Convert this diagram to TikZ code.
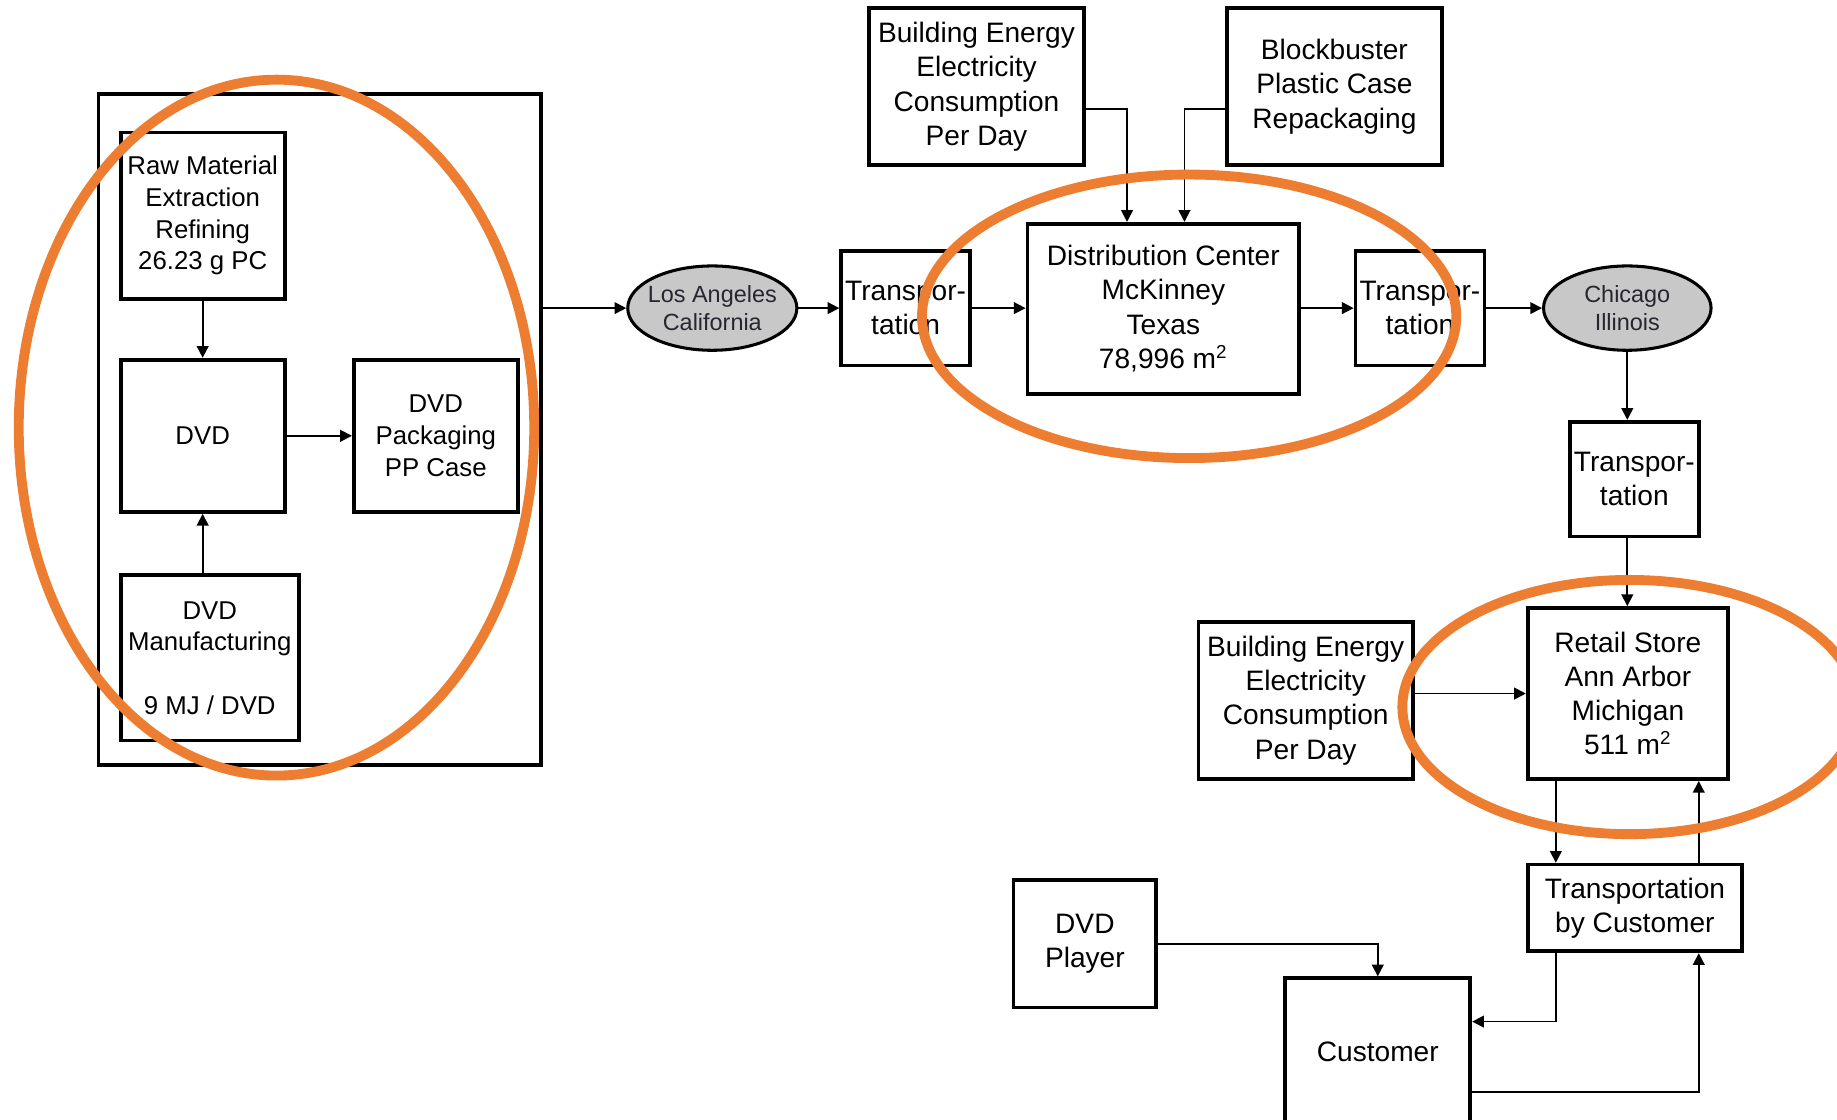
\documentclass[tikz,border=0pt]{standalone}
\usepackage{fontspec}
\setmainfont{Liberation Sans}
\usetikzlibrary{arrows.meta,shapes.geometric}
\definecolor{ringc}{HTML}{ED7D31}
\definecolor{ellfill}{HTML}{C8C8C8}
\definecolor{elltext}{HTML}{262630}
\begin{document}
\begin{tikzpicture}[x=0.5pt,y=-0.5pt,
  box/.style={draw,line width=1.6pt,inner sep=0pt,align=center,font=\fontsize{12}{14.6}\selectfont},
  sbox/.style={box,font=\fontsize{11}{13.5}\selectfont},
  city/.style={ellipse,draw,line width=1.3pt,fill=ellfill,inner xsep=-2pt,inner ysep=0pt,align=center,text=elltext,font=\fontsize{10}{12}\selectfont},
  arr/.style={line width=0.75pt,-{Triangle[length=5pt,width=5pt]}},
  ring/.style={draw=ringc,line width=4.2pt}]
\useasboundingbox (0,0) rectangle (1568,956);

% left group
\node[box,minimum width=189pt,minimum height=286.5pt] (outer) at (273,366.5) {};
\node[sbox,minimum width=70pt,minimum height=71pt] (raw) at (173,184) {Raw Material\\Extraction\\Refining\\26.23 g PC};
\node[sbox,minimum width=70pt,minimum height=65pt] (dvd) at (173,372) {DVD};
\node[sbox,minimum width=70pt,minimum height=65pt] (pack) at (372,372) {DVD\\Packaging\\PP Case};
\node[sbox,minimum width=76pt,minimum height=70.5pt] (manu) at (179,561.5) {DVD\\Manufacturing\\[13.5pt]9 MJ / DVD};

% main chain
\node[city,minimum width=71.5pt,minimum height=36pt] (la) at (608,263) {Los Angeles\\California};
\node[box,minimum width=55pt,minimum height=49pt] (t1) at (773,263) {Transpor-\\tation};
\node[box,minimum width=116pt,minimum height=72.5pt] (dc) at (993,263.5) {Distribution Center\\McKinney\\Texas\\78,996 m\textsuperscript{2}};
\node[box,minimum width=91.5pt,minimum height=67pt] (be1) at (833.5,74) {Building Energy\\Electricity\\Consumption\\Per Day};
\node[box,minimum width=92pt,minimum height=67pt] (bb) at (1139,74) {Blockbuster\\Plastic Case\\Repackaging};
\node[box,minimum width=55pt,minimum height=49pt] (t2) at (1212,263) {Transpor-\\tation};
\node[city,minimum width=71.5pt,minimum height=36pt] (chi) at (1389,263) {Chicago\\Illinois};
\node[box,minimum width=55pt,minimum height=49pt] (t3) at (1395,409) {Transpor-\\tation};
\node[box,minimum width=85.5pt,minimum height=73pt] (retail) at (1389.5,592) {Retail Store\\Ann Arbor\\Michigan\\511 m\textsuperscript{2}};
\node[box,minimum width=91.5pt,minimum height=67pt] (be2) at (1114.5,598) {Building Energy\\Electricity\\Consumption\\Per Day};
\node[box,minimum width=91.5pt,minimum height=37pt] (tbc) at (1395.5,775) {Transportation\\by Customer};
\node[box,minimum width=61pt,minimum height=54.5pt] (player) at (926,805.5) {DVD\\Player};
\node[box,minimum width=79pt,minimum height=62.5pt] (cust) at (1176,897.5) {Customer};

% connectors
\draw[arr] (raw.south) -- (dvd.north);
\draw[arr] (manu.north -| dvd.south) -- (dvd.south);
\draw[arr] (dvd.east) -- (pack.west);
\draw[arr] (outer.east |- la.west) -- (la.west);
\draw[arr] (la.east) -- (t1.west);
\draw[arr] (t1.east) -- (t1.east -| dc.west);
\draw[arr] (dc.east |- t2.west) -- (t2.west);
\draw[arr] (t2.east) -- (chi.west);
\draw[arr] ([yshift=-9.5pt]be1.east) -| ([xshift=-15.5pt]dc.north);
\draw[arr] ([yshift=-9.5pt]bb.west) -| ([xshift=9pt]dc.north);
\draw[arr] (chi.south) -- (chi.south |- t3.north);
\draw[arr] (chi.south |- t3.south) -- (chi.south |- retail.north);
\draw[arr] (be2.east |- retail.west) -- (retail.west);
\draw[arr] ([xshift=-30.75pt]retail.south) -- ([xshift=-30.75pt]retail.south |- tbc.north);
\draw[arr] ([xshift=27.25pt]tbc.north) -- ([xshift=27.25pt]tbc.north |- retail.south);
\draw[arr] (player.east) -| (cust.north);
\draw[arr] ([xshift=-33.75pt]tbc.south) |- ([yshift=12.75pt]cust.east);
\draw[arr] ([yshift=-17.25pt]cust.east) -| ([xshift=27.25pt]tbc.south);

% highlight rings
\draw[ring] (236,365) ellipse [x radius=110pt, y radius=148.5pt];
\draw[ring] (1015,270) ellipse [x radius=114pt, y radius=60.5pt];
\draw[ring] (1391,603.5) ellipse [x radius=97pt, y radius=54.25pt];
\end{tikzpicture}
\end{document}
